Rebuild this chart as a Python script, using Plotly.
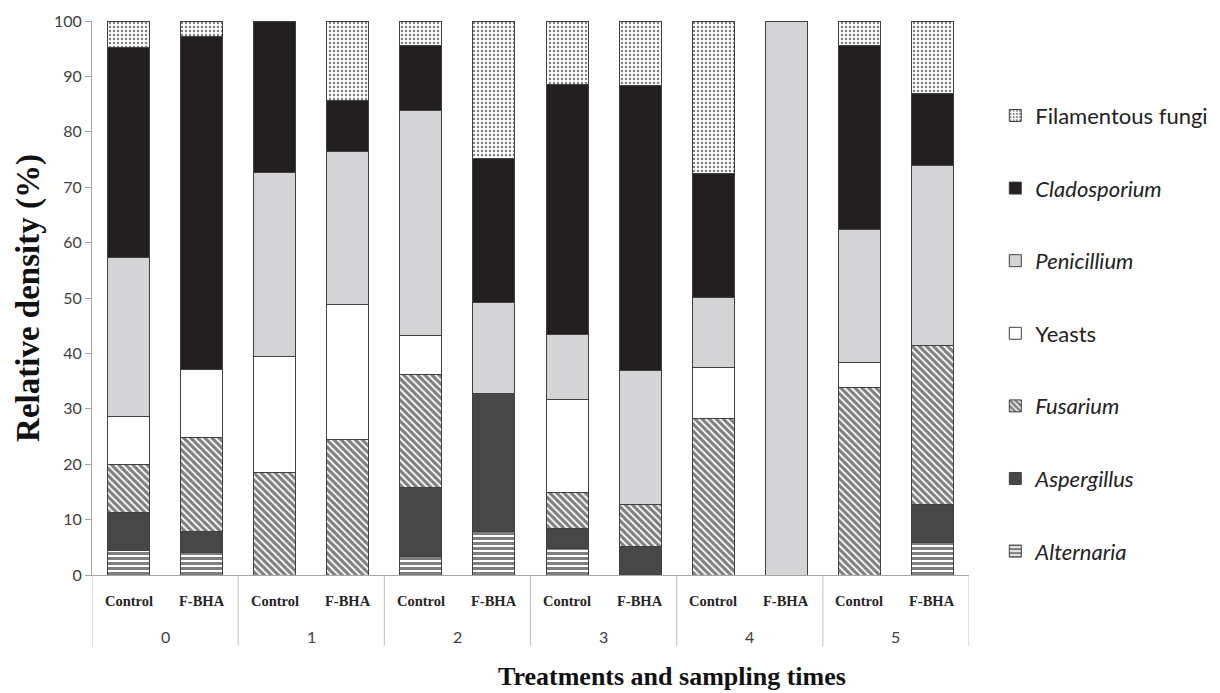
import plotly.graph_objects as go

times = ["0", "1", "2", "3", "4", "5"]
treatments = ["Control", "F-BHA"]
bar_ids = [f"{t}-{tr}" for t in times for tr in treatments]

alternaria   = [4.5, 4.1, 0, 0, 3.4, 7.9, 4.7, 0, 0, 0, 0, 5.9]
aspergillus  = [6.7, 3.8, 0, 0, 12.4, 24.9, 3.7, 5.1, 0, 0, 0, 6.9]
fusarium     = [8.7, 16.9, 18.5, 24.5, 20.4, 0, 6.5, 7.7, 28.3, 0, 33.9, 28.7]
yeasts       = [8.8, 12.3, 20.9, 24.4, 7.1, 0, 16.8, 0, 9.2, 0, 4.4, 0]
penicillium  = [28.6, 0, 33.2, 27.6, 40.5, 16.4, 11.7, 24.1, 12.6, 100, 24.1, 32.4]
cladosporium = [38.0, 60.1, 27.4, 9.2, 11.7, 26.0, 45.2, 51.4, 22.3, 0, 33.1, 13.1]
filamentous  = [4.7, 2.8, 0, 14.3, 4.5, 24.8, 11.4, 11.7, 27.6, 0, 4.5, 13.0]

y_ticks = [0, 10, 20, 30, 40, 50, 60, 70, 80, 90, 100]

series = [
    ("<i>Alternaria</i>", alternaria, dict(color="white", pattern=dict(shape="-", fgcolor="#000000", bgcolor="white", size=5, solidity=0.6))),
    ("<i>Aspergillus</i>", aspergillus, dict(color="#474747")),
    ("<i>Fusarium</i>", fusarium, dict(color="white", pattern=dict(shape="\\", fgcolor="#000000", bgcolor="white", size=5, solidity=0.65))),
    ("Yeasts", yeasts, dict(color="white")),
    ("<i>Penicillium</i>", penicillium, dict(color="#d4d4d6")),
    ("<i>Cladosporium</i>", cladosporium, dict(color="#231f20")),
    ("Filamentous fungi", filamentous, dict(color="white", pattern=dict(shape=".", fgcolor="#000000", bgcolor="white", size=4, solidity=0.3))),
]

fig = go.Figure()
n = len(series)
for i, (name, vals, mk) in enumerate(series):
    mk = dict(mk)
    mk["line"] = dict(color="#404040", width=1)
    fig.add_trace(go.Bar(x=bar_ids, y=vals, name=name, marker=mk,
                         legendgroup=f"g{i}", legendrank=n - i))

fig.update_layout(
    barmode="stack",
    bargap=0.425,
    width=1220, height=693,
    margin=dict(l=92, r=251, t=21, b=118, autoexpand=False),
    plot_bgcolor="white", paper_bgcolor="white",
    font=dict(family="Lato, Open Sans, sans-serif", color="#404040"),
    legend=dict(
        x=1.03, y=0.867, xanchor="left", yanchor="top",
        traceorder="grouped", tracegroupgap=41,
        font=dict(family="Lato, sans-serif", size=22, color="#222222"),
        itemwidth=30,
    ),
    showlegend=True,
)

fig.update_yaxes(
    range=[0, 100], tickvals=y_ticks, showgrid=False,
    showline=True, linecolor="#a6a6a6", linewidth=1,
    ticks="outside", ticklen=6, tickcolor="#a6a6a6",
    tickfont=dict(family="Lato, sans-serif", size=16, color="#404040"),
    zeroline=False,
    title=dict(text="<b>Relative density (%)</b>", font=dict(family="Liberation Serif, Times New Roman, serif", size=33, color="#111111"), standoff=4),
)
fig.update_xaxes(
    showticklabels=False, showgrid=False, showline=True, linecolor="#a6a6a6", linewidth=1,
    ticks="", range=[-0.5, len(bar_ids) - 0.5],
)

# inner labels (treatments)
for j, bid in enumerate(bar_ids):
    fig.add_annotation(x=j, y=(575 - 601) / 554, xref="x", yref="paper", yanchor="middle",
                       text=f"<b>{treatments[j % 2]}</b>", showarrow=False,
                       font=dict(family="Liberation Serif, Times New Roman, serif", size=14.5, color="#262626"))
# outer labels (times)
for g, t in enumerate(times):
    fig.add_annotation(x=2 * g + 0.5, y=(575 - 636) / 554, xref="x", yref="paper", yanchor="middle",
                       text=t, showarrow=False,
                       font=dict(family="Lato, sans-serif", size=16, color="#404040"))
# dividers
for g in range(len(times) + 1):
    fig.add_shape(type="line", xref="x", yref="paper", x0=2 * g - 0.5, x1=2 * g - 0.5,
                  y0=0, y1=(575 - 646) / 554, line=dict(color="#bfbfbf", width=1))

fig.add_annotation(x=(672 - 92) / 877, y=(575 - 676) / 554, xref="paper", yref="paper",
                   xanchor="center", yanchor="middle",
                   text="<b>Treatments and sampling times</b>", showarrow=False,
                   font=dict(family="Liberation Serif, Times New Roman, serif", size=26, color="#111111"))

fig.write_html("out.html")
